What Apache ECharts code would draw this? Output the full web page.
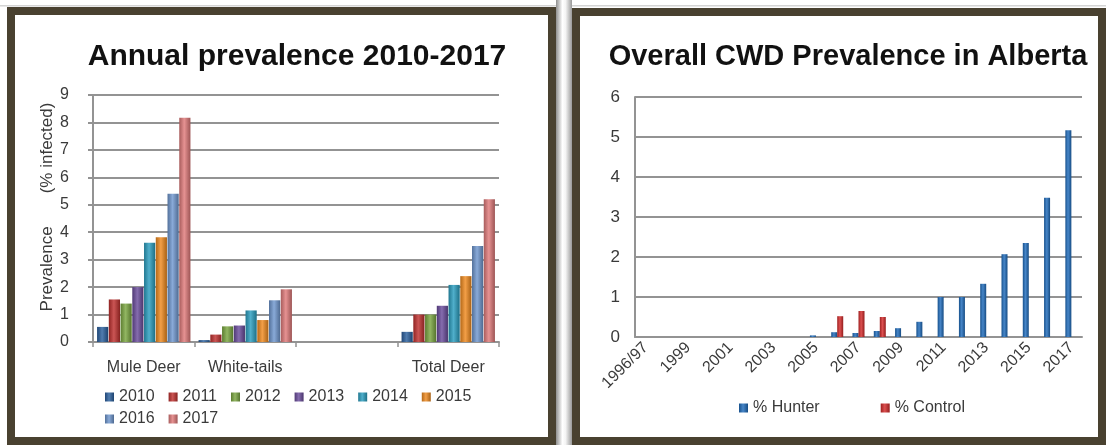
<!DOCTYPE html>
<html><head><meta charset="utf-8">
<script src="https://cdn.jsdelivr.net/npm/echarts@6/dist/echarts.min.js"></script>
<style>html,body{margin:0;padding:0;background:#fff}#c{width:1106px;height:445px}</style>
</head><body><div id="c"></div>
<script>
// ---------- Left chart data ----------
const leftCategories = ['Mule Deer', 'White-tails', '', 'Total Deer'];
const leftYears = ['2010', '2011', '2012', '2013', '2014', '2015', '2016', '2017'];
const prev2010 = [0.55, 0.07, null, 0.37];
const prev2011 = [1.55, 0.27, null, 1.0];
const prev2012 = [1.40, 0.57, null, 1.0];
const prev2013 = [2.0, 0.60, null, 1.32];
const prev2014 = [3.62, 1.15, null, 2.08];
const prev2015 = [3.82, 0.80, null, 2.40];
const prev2016 = [5.40, 1.52, null, 3.50];
const prev2017 = [8.17, 1.92, null, 5.20];

// ---------- Right chart data ----------
const rightCategories = ['1996/97', '1998', '1999', '2000', '2001', '2002', '2003', '2004', '2005', '2006',
  '2007', '2008', '2009', '2010', '2011', '2012', '2013', '2014', '2015', '2016', '2017'];
const hunterPct = [0, 0, 0, 0, 0, 0, 0, 0, 0.04, 0.12, 0.10, 0.15, 0.22, 0.38, 1.0, 1.0, 1.33, 2.07, 2.35, 3.48, 5.17];
const controlPct = [0, 0, 0, 0, 0, 0, 0, 0, 0, 0.52, 0.65, 0.50, 0, 0, 0, 0, 0, 0, 0, 0, 0];

// ---------- styling helpers ----------
const FONT = "'Liberation Sans', Arial, sans-serif";
const TXT = '#3a3a3a';
const GRID = '#939393';
const FRAME = '#494130';
const leftColors = ['#2a5f9e', '#c0302e', '#7aa640', '#6a4c9c', '#2a9ec0', '#f08a1e', '#6f97cf', '#e07a7a'];

function shade(hex, f) {
  const n = parseInt(hex.slice(1), 16);
  let r = (n >> 16) & 255, g = (n >> 8) & 255, b = n & 255;
  const m = v => Math.round(f < 0 ? v * (1 + f) : v + (255 - v) * f);
  return 'rgb(' + m(r) + ',' + m(g) + ',' + m(b) + ')';
}
function barGrad(c) {
  return new echarts.graphic.LinearGradient(0, 0, 1, 0, [
    { offset: 0, color: shade(c, -0.25) },
    { offset: 0.45, color: shade(c, 0.18) },
    { offset: 1, color: shade(c, -0.3) }
  ]);
}

const leftSeriesData = [prev2010, prev2011, prev2012, prev2013, prev2014, prev2015, prev2016, prev2017];

const chart = echarts.init(document.getElementById('c'), null, { renderer: 'canvas' });

const leftSeries = leftYears.map((y, i) => ({
  name: y, type: 'bar', xAxisIndex: 0, yAxisIndex: 0,
  data: leftSeriesData[i],
  barGap: '5%', barCategoryGap: '8%',
  itemStyle: { color: barGrad(leftColors[i]) },
  emphasis: { disabled: true }
}));

const rightSeries = [
  { name: '% Hunter', type: 'bar', xAxisIndex: 1, yAxisIndex: 1, data: hunterPct, barWidth: 6, barGap: '0%',
    itemStyle: { color: barGrad('#1f6cbc') }, emphasis: { disabled: true } },
  { name: '% Control', type: 'bar', xAxisIndex: 1, yAxisIndex: 1, data: controlPct, barWidth: 6, barGap: '0%',
    itemStyle: { color: barGrad('#d42a2a') }, emphasis: { disabled: true } }
];

const legendText = { fontSize: 16, color: TXT, fontFamily: FONT };

chart.setOption({
  animation: false,
  backgroundColor: '#fff',
  textStyle: { fontFamily: FONT },
  title: [
    { text: 'Annual prevalence 2010-2017', left: 292, textAlign: 'center', top: 37,
      textStyle: { fontSize: 30, fontWeight: 'bold', color: '#111', fontFamily: FONT } },
    { text: 'Overall CWD Prevalence in Alberta', left: 843, textAlign: 'center', top: 37,
      textStyle: { fontSize: 29, fontWeight: 'bold', color: '#111', fontFamily: FONT } }
  ],
  legend: [
    { data: leftYears.slice(0, 6), left: 100, top: 384, itemWidth: 9, itemHeight: 9, itemGap: 14,
      icon: 'rect', textStyle: legendText, selectedMode: false },
    { data: leftYears.slice(6), left: 100, top: 406, itemWidth: 9, itemHeight: 9, itemGap: 14,
      icon: 'rect', textStyle: legendText, selectedMode: false },
    { data: ['% Hunter', '% Control'], left: 734, top: 395, itemWidth: 9, itemHeight: 9, itemGap: 61,
      icon: 'rect', textStyle: legendText, selectedMode: false }
  ],
  grid: [
    { left: 93, top: 95, width: 406, height: 247, containLabel: false },
    { left: 635, top: 97, width: 447, height: 240, containLabel: false }
  ],
  xAxis: [
    { type: 'category', gridIndex: 0, data: leftCategories,
      axisLine: { lineStyle: { color: GRID, width: 2 } },
      axisTick: { show: true, length: 5, lineStyle: { color: GRID, width: 1.5 } },
      axisLabel: { fontSize: 16, color: TXT, margin: 18, interval: 0 } },
    { type: 'category', gridIndex: 1, data: rightCategories,
      axisLine: { lineStyle: { color: GRID, width: 2 } },
      axisTick: { show: false },
      axisLabel: { fontSize: 16, color: TXT, margin: 8, rotate: 45, interval: 1 } }
  ],
  yAxis: [
    { type: 'value', gridIndex: 0, min: 0, max: 9, interval: 1,
      name: 'Prevalence       (% infected)', nameLocation: 'middle', nameGap: 33,
      nameTextStyle: { fontSize: 17, color: TXT, padding: [0, 0, 0, 23] },
      axisLine: { show: true, lineStyle: { color: GRID, width: 2 } },
      axisTick: { show: true, length: 5, lineStyle: { color: GRID, width: 2 } },
      splitLine: { lineStyle: { color: GRID, width: 2 } },
      axisLabel: { fontSize: 16, color: TXT, margin: 24 } },
    { type: 'value', gridIndex: 1, min: 0, max: 6, interval: 1,
      axisLine: { show: true, lineStyle: { color: GRID, width: 2 } },
      axisTick: { show: false },
      splitLine: { lineStyle: { color: GRID, width: 2 } },
      axisLabel: { fontSize: 17, color: TXT, margin: 15 } }
  ],
  series: leftSeries.concat(rightSeries),
  graphic: [
    { type: 'rect', z: 100, silent: true, shape: { x: 0, y: 5, width: 1106, height: 1.5 }, style: { fill: '#d4d4d4' } },
    { type: 'rect', z: 100, silent: true, shape: { x: 556, y: 0, width: 16, height: 445 },
      style: { fill: new echarts.graphic.LinearGradient(0, 0, 1, 0, [
        { offset: 0, color: '#8f8f8f' }, { offset: 0.4, color: '#ffffff' },
        { offset: 0.6, color: '#f4f4f4' }, { offset: 1, color: '#9a9a9a' }]) } },
    { type: 'rect', z: 101, silent: true, shape: { x: 11, y: 11, width: 541, height: 430 },
      style: { fill: 'none', stroke: FRAME, lineWidth: 8 } },
    { type: 'rect', z: 101, silent: true, shape: { x: 576, y: 12, width: 526, height: 429 },
      style: { fill: 'none', stroke: FRAME, lineWidth: 8 } }
  ]
});
</script>
</body></html>
